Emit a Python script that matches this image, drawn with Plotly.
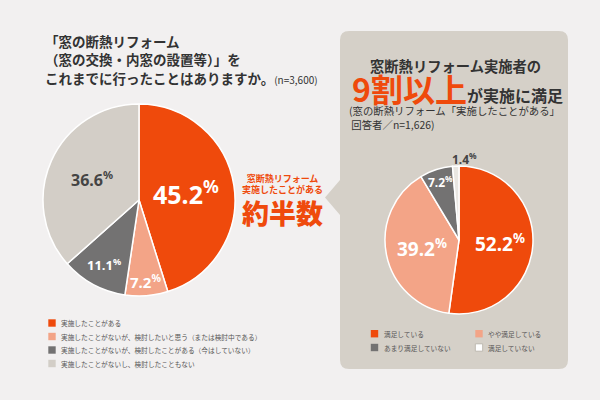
import math
import plotly.graph_objects as go

W, H = 600, 400

# ---------------- data ----------------
left_labels = [
    "実施したことがある",
    "実施したことがないが、検討したいと思う（または検討中である）",
    "実施したことがないが、検討したことがある（今はしていない）",
    "実施したことがないし、検討したこともない",
]
left_values = [45.2, 7.2, 11.1, 36.6]

right_labels = ["満足している", "やや満足している", "あまり満足していない", "満足していない"]
right_values = [52.2, 39.2, 7.2, 1.4]

left_title = ["「窓の断熱リフォーム", "（窓の交換・内窓の設置等）」を", "これまでに行ったことはありますか。"]
left_n = "(n=3,600)"
right_title = ["窓断熱リフォーム実施者の", "9割以上", "が実施に満足"]
right_sub = ["(窓の断熱リフォーム「実施したことがある」", " 回答者／n=1,626)"]
center_text = ["窓断熱リフォーム", "実施したことがある", "約半数"]

# ---------------- styles ----------------
ORANGE = "#ef4a0c"
left_colors = [ORANGE, "#f3a487", "#737272", "#d3cec7"]
right_colors = [ORANGE, "#f3a487", "#737272", "#e9e6e1"]
BG = "#f2f0f0"
PANEL = "#d5d0c8"
DARK = "#333333"
JP = "Noto Sans CJK JP"
NUM = "Noto Sans, Noto Sans CJK JP"


def px(x):
    return x / W


def py(y):
    return 1 - y / H


# pie geometry (pixels)
L_CX, L_CY, L_R = 139, 200, 96
R_CX, R_CY, R_R = 459, 240, 74

fig = go.Figure()
fig.add_trace(go.Pie(
    labels=left_labels, values=left_values, sort=False, direction="clockwise",
    marker=dict(colors=left_colors, line=dict(color="white", width=1.5)),
    textinfo="none", hoverinfo="label+value", showlegend=False,
    domain=dict(x=[px(L_CX - L_R), px(L_CX + L_R)], y=[py(L_CY + L_R), py(L_CY - L_R)]),
))
fig.add_trace(go.Pie(
    labels=right_labels, values=right_values, sort=False, direction="clockwise",
    marker=dict(colors=right_colors, line=dict(color="white", width=1.5)),
    textinfo="none", hoverinfo="label+value", showlegend=False,
    domain=dict(x=[px(R_CX - R_R), px(R_CX + R_R)], y=[py(R_CY + R_R), py(R_CY - R_R)]),
))

ann = []


def text(x, y, s, size, color=DARK, family=JP, xanchor="left", yanchor="middle",
         weight="normal", align="left"):
    ann.append(dict(x=px(x), y=py(y), xref="paper", yref="paper", text=s, showarrow=False,
                    xanchor=xanchor, yanchor=yanchor, align=align,
                    font=dict(size=size, color=color, family=family, weight=weight)))


def pie_labels(values, cx, cy, r, fracs, offs, sizes, colors):
    total = sum(values)
    cum = 0
    for v, f, o, s, c in zip(values, fracs, offs, sizes, colors):
        th = 2 * math.pi * (cum + v / 2) / total + math.radians(o)
        cum += v
        x = cx + f * r * math.sin(th)
        y = cy - f * r * math.cos(th)
        text(x, y, f"{v:.1f}<sup>%</sup>", s, c, NUM, xanchor="center", weight="bold")


pie_labels(left_values, L_CX, L_CY, L_R, [0.5, 0.85, 0.76, 0.54], [0, 0, 0, 0],
           [25, 15, 13, 16], ["white", "white", "white", "#444444"])
pie_labels(right_values, R_CX, R_CY, R_R, [0.55, 0.51, 0.82, 1.1], [0, 0, 0, 6.5],
           [19, 19, 12, 12], ["white", "white", "white", "#444444"])

# left title (one block, line pitch 1.3 * 14.2 = 18.5px)
text(43, 59.5,
     f"<span style='font-size:13.5px'>{left_title[0]}</span><br>"
     f"<span style='font-size:13.5px'>{left_title[1]}</span><br>"
     f"<span style='font-size:13.5px'>{left_title[2]}</span>"
     f"<span style='font-size:10px;font-weight:normal'>{left_n}</span>",
     14.2, weight="bold")

# right panel titles
text(455, 65.5, right_title[0], 14.3, xanchor="center", weight="bold")
text(457, 87.5, f"<span style='font-size:32px;color:{ORANGE}'>{right_title[1]}</span>{right_title[2]}",
     16, xanchor="center", weight="bold")
text(347, 118, f"{right_sub[0]}<br>{right_sub[1]}", 10.4)

# center callout
text(282, 183.5, f"<span style='font-size:9px'>{center_text[0]}</span><br>"
                 f"<span style='font-size:9px'>{center_text[1]}</span>",
     8.1, ORANGE, xanchor="center", weight="bold", align="center")
text(282, 212, center_text[2], 27, ORANGE, xanchor="center", weight=900)

shapes = []

# panel with arrow (rounded rectangle)
x0, x1, y0, y1, rr = 340, 568, 31, 369, 9
pts = lambda x, y: f"{px(x):.5f},{py(y):.5f}"
path = (f"M{pts(x0 + rr, y0)} L{pts(x1 - rr, y0)} Q{pts(x1, y0)} {pts(x1, y0 + rr)} "
        f"L{pts(x1, y1 - rr)} Q{pts(x1, y1)} {pts(x1 - rr, y1)} L{pts(x0 + rr, y1)} "
        f"Q{pts(x0, y1)} {pts(x0, y1 - rr)} L{pts(x0, 215)} L{pts(325, 197.5)} L{pts(x0, 180)} "
        f"L{pts(x0, y0 + rr)} Q{pts(x0, y0)} {pts(x0 + rr, y0)} Z")
shapes.append(dict(type="path", path=path, xref="paper", yref="paper", fillcolor=PANEL,
                   line=dict(width=0), layer="below"))


# legends
def legend_item(cx, cy, color, label, border=None):
    s = 3.7
    shapes.append(dict(type="rect", xref="paper", yref="paper", x0=px(cx - s), x1=px(cx + s),
                       y0=py(cy + s), y1=py(cy - s), fillcolor=color,
                       line=dict(width=1 if border else 0, color=border or color)))
    text(cx + 7, cy, label, 6.7, "#555555")


for i, (lab, col) in enumerate(zip(left_labels, left_colors)):
    legend_item(52, 323 + i * 13.5, col, lab)

r_pos = [(374.5, 333.7), (479, 333.7), (374.5, 347.5), (479, 347.5)]
for i, (lab, col) in enumerate(zip(right_labels, right_colors)):
    border = "#bdb8b0" if i == 3 else None
    legend_item(r_pos[i][0], r_pos[i][1], "white" if i == 3 else col, lab, border)

fig.update_layout(
    width=W, height=H, margin=dict(l=0, r=0, t=0, b=0),
    paper_bgcolor=BG, plot_bgcolor=BG,
    annotations=ann, shapes=shapes, showlegend=False,
)
fig.write_html("out.html")
